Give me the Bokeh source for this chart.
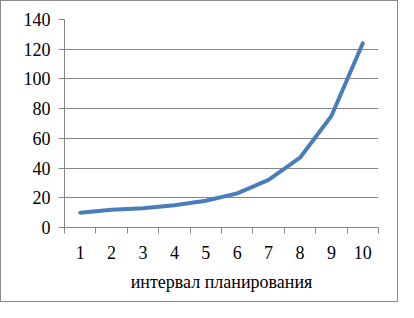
from bokeh.plotting import figure
from bokeh.models import Range1d, FixedTicker
from bokeh.embed import file_html
from bokeh.resources import INLINE

intervals = [1, 2, 3, 4, 5, 6, 7, 8, 9, 10]
values = [10, 12, 13, 15, 18, 23, 32, 47, 75, 124]
y_ticks = [0, 20, 40, 60, 80, 100, 120, 140]
x_label = "интервал планирования"

FONT = "Liberation Serif"
GRAY = "#868686"

p = figure(width=398, height=302, output_backend="svg", toolbar_location=None,
           x_range=Range1d(0.5, 10.5), y_range=Range1d(0, 140),
           min_border_left=63, min_border_right=21, min_border_top=18, min_border_bottom=76)
p.styles = {"border": "1px solid #8c8c8c", "box-sizing": "border-box"}
p.outline_line_color = None
p.background_fill_color = "white"
p.border_fill_color = "white"

p.line(intervals, values, line_width=4, line_color="#4A7EBB", line_join="round", line_cap="round")

p.xgrid.grid_line_color = None
p.ygrid.grid_line_color = GRAY
p.ygrid.grid_line_width = 1
p.ygrid.ticker = FixedTicker(ticks=y_ticks)

p.yaxis.ticker = FixedTicker(ticks=y_ticks)
p.yaxis.axis_line_color = GRAY
p.yaxis.major_tick_line_color = GRAY
p.yaxis.major_tick_out = 6
p.yaxis.major_tick_in = 0
p.yaxis.minor_tick_line_color = None
p.yaxis.major_label_text_font = FONT
p.yaxis.major_label_text_font_size = "18px"
p.yaxis.major_label_text_color = "black"
p.yaxis.major_label_standoff = 8

minor = [i + 0.5 for i in range(0, 11)]
p.xaxis.ticker = FixedTicker(ticks=intervals, minor_ticks=minor)
p.xaxis.axis_line_color = GRAY
p.xaxis.major_tick_line_color = None
p.xaxis.minor_tick_line_color = GRAY
p.xaxis.minor_tick_out = 6
p.xaxis.minor_tick_in = 0
p.xaxis.major_label_text_font = FONT
p.xaxis.major_label_text_font_size = "18px"
p.xaxis.major_label_text_color = "black"
p.xaxis.major_label_standoff = 12
p.xaxis.axis_label = x_label
p.xaxis.axis_label_text_font = FONT
p.xaxis.axis_label_text_font_size = "18px"
p.xaxis.axis_label_text_font_style = "normal"
p.xaxis.axis_label_text_color = "black"
p.xaxis.axis_label_standoff = 10

open("out.html", "w").write(file_html(p, INLINE))
